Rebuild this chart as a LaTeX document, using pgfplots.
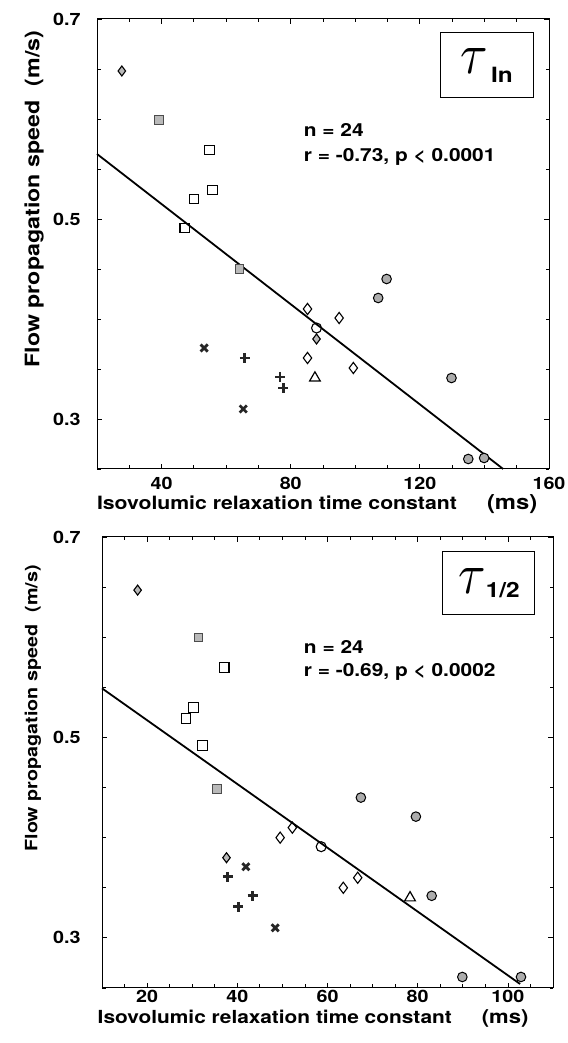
\documentclass[border=0pt]{standalone}
\usepackage{fontspec}
\setmainfont{TeX Gyre Heros}[FakeStretch=1.16]
\usepackage{pgfplots}
\pgfplotsset{compat=1.18}
\begin{document}
\begin{tikzpicture}[x=1pt,y=1pt]
\useasboundingbox (0,0) rectangle (567,1043);
\pgfplotsset{
  myax/.style={
    scale only axis,
    tick align=inside,
    major tick length=5pt, minor tick length=3.5pt,
    every tick/.style={black, line width=0.8pt},
    axis line style={line width=1pt},
    /pgf/number format/assume math mode=true,
    ticklabel style={font=\fontsize{17}{17}\selectfont\bfseries},
    yticklabel style={/pgf/number format/fixed, /pgf/number format/fixed zerofill, /pgf/number format/precision=1},
    ymin=0.25, ymax=0.7,
    ytick={0.3,0.5,0.7},
    minor ytick={0.25,0.3,...,0.7},
    clip=false,
  },
  fcirc/.style={only marks, mark=*, mark size=4.8pt, mark options={fill=gray!65, draw=black, line width=1pt}},
  gsq/.style={only marks, mark=square*, mark size=4.3pt, mark options={fill=gray!55, draw=black!70, line width=0.7pt}},
  osq/.style={only marks, mark=square, mark size=4.8pt, mark options={draw=black, line width=1.1pt}},
  odia/.style={only marks, mark=diamond, mark size=5.6pt, mark options={draw=black, line width=1.1pt}},
  ocirc/.style={only marks, mark=o, mark size=5pt, mark options={draw=black, line width=1.1pt}},
  fdia/.style={only marks, mark=diamond*, mark size=5pt, mark options={fill=gray!55, draw=black, line width=1.1pt}},
  xm/.style={only marks, mark=x, mark size=5pt, mark options={draw=black!85, line width=2.8pt}},
  pm/.style={only marks, mark=+, mark size=5pt, mark options={draw=black!85, line width=2.8pt}},
  tri/.style={only marks, mark=triangle, mark size=6.2pt, mark options={draw=black, line width=1.2pt}},
}
% ---------- top panel ----------
\begin{axis}[myax,
  at={(97pt,574pt)}, anchor=south west,
  width=452pt, height=450pt,
  xmin=20, xmax=160,
  xtick={40,80,120,160},
  minor xtick={20,30,...,160},
  xticklabel style={yshift=-5pt},
  yticklabel style={xshift=-13pt},
  xlabel={\bfseries{\fontsize{18.3}{18.3}\selectfont Isovolumic relaxation time constant}\hspace{30pt}{\fontsize{20.5}{20.5}\selectfont(ms)}},
  xlabel style={at={(axis description cs:0.487,-0.078)}, anchor=center},
  ylabel={\fontsize{20}{20}\selectfont\bfseries Flow propagation speed\hspace{0.4em} (m/s)},
  ylabel style={at={(axis description cs:-0.139,0.6)}, anchor=center},
]
\addplot[black, line width=1.8pt] coordinates {(20,0.565) (145.8,0.25)};
\addplot[fdia] coordinates {(27.7,0.648) (88,0.380)};
\addplot[gsq] coordinates {(39.2,0.599) (64.1,0.450)};
\addplot[osq] coordinates {(54.8,0.569) (55.8,0.529) (50,0.520) (47.2,0.491)};
\addplot[fcirc] coordinates {(109.7,0.440) (107.1,0.421) (129.8,0.341) (135,0.260) (139.9,0.261)};
\addplot[odia] coordinates {(85.2,0.410) (95,0.401) (85.2,0.361) (99.4,0.351)};
\addplot[ocirc] coordinates {(88,0.391)};
\addplot[xm] coordinates {(53.2,0.371) (65.3,0.310)};
\addplot[pm] coordinates {(65.8,0.361) (76.7,0.342) (77.7,0.331)};
\addplot[tri] coordinates {(87.5,0.341)};
\node[draw, line width=1pt, minimum width=93pt, minimum height=65pt, inner sep=0pt] at (rel axis cs:0.862,0.897)
  {\raisebox{2pt}{\scalebox{5}[5.8]{$\tau$}}\hspace{3pt}\raisebox{-7pt}{\fontsize{21}{21}\selectfont\bfseries In}};
\node[anchor=west, font=\fontsize{18}{18}\selectfont\bfseries] at (rel axis cs:0.45,0.753) {n = 24};
\node[anchor=west, font=\fontsize{18}{18}\selectfont\bfseries] at (rel axis cs:0.45,0.693) {r = -0.73, p < 0.0001};
\end{axis}
% ---------- bottom panel ----------
\begin{axis}[myax,
  at={(102pt,55pt)}, anchor=south west,
  width=451pt, height=451pt,
  xmin=10, xmax=110,
  xtick={20,40,60,80,100},
  minor xtick={10,15,...,110},
  xticklabel style={yshift=1pt},
  yticklabel style={xshift=-18pt},
  xlabel={\bfseries{\fontsize{18}{18}\selectfont Isovolumic relaxation time constant}\hspace{30pt}{\fontsize{19}{19}\selectfont(ms)}},
  xlabel style={at={(axis description cs:0.468,-0.068)}, anchor=center},
  ylabel={\fontsize{17}{17}\selectfont\bfseries Flow propagation speed\hspace{0.4em} (m/s)},
  ylabel style={at={(axis description cs:-0.153,0.62)}, anchor=center},
]
\addplot[black, line width=1.8pt] coordinates {(10,0.549) (102.7,0.254)};
\addplot[fdia] coordinates {(17.9,0.647) (37.6,0.380)};
\addplot[gsq] coordinates {(31.4,0.600) (35.4,0.449)};
\addplot[osq] coordinates {(37.1,0.570) (30.3,0.530) (28.6,0.519) (32.3,0.492)};
\addplot[fcirc] coordinates {(67.4,0.440) (79.6,0.421) (83.1,0.342) (89.9,0.261) (102.9,0.261)};
\addplot[odia] coordinates {(52.2,0.410) (49.5,0.400) (66.7,0.360) (63.5,0.350)};
\addplot[ocirc] coordinates {(58.6,0.391)};
\addplot[xm] coordinates {(41.9,0.371) (48.4,0.310)};
\addplot[pm] coordinates {(37.9,0.361) (43.4,0.342) (40.2,0.331)};
\addplot[tri] coordinates {(78.3,0.340)};
\node[draw, line width=1pt, minimum width=92pt, minimum height=63pt, inner sep=0pt] at (rel axis cs:0.858,0.897)
  {\raisebox{2pt}{\scalebox{5}[5.8]{$\tau$}}\raisebox{-2pt}{\fontsize{21}{21}\selectfont\bfseries 1/2}};
\node[anchor=west, font=\fontsize{18}{18}\selectfont\bfseries] at (rel axis cs:0.44,0.756) {n = 24};
\node[anchor=west, font=\fontsize{18}{18}\selectfont\bfseries] at (rel axis cs:0.44,0.70) {r = -0.69, p < 0.0002};
\end{axis}
\end{tikzpicture}
\end{document}
